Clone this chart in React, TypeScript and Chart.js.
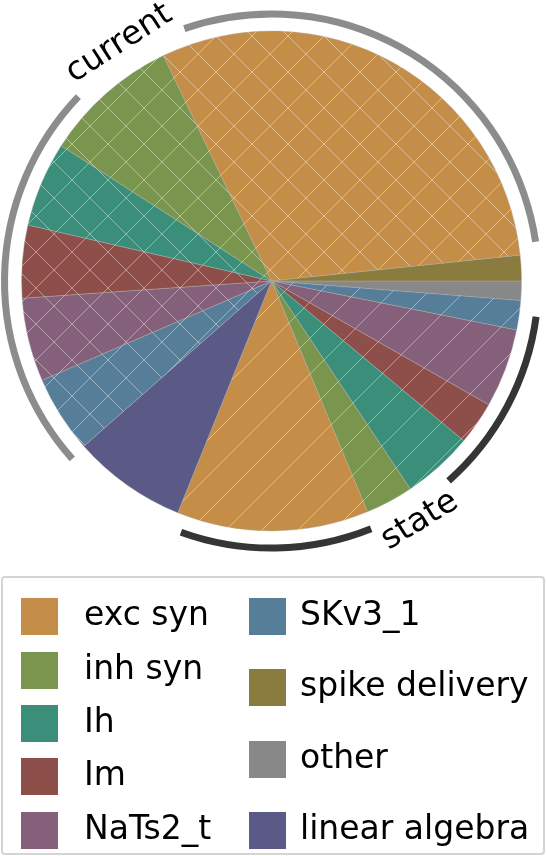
import React, { useEffect, useRef } from 'react';
import { Chart, registerables } from 'chart.js';

Chart.register(...registerables);

// ---- data (percent of total simulation time) ----
const categories = ['exc syn', 'inh syn', 'Ih', 'Im', 'NaTs2_t', 'SKv3_1'];
const currentValues = [30.5, 8.8, 5.5, 4.7, 5.4, 5.0];
const stateValues = [12.4, 3.1, 4.6, 2.8, 5.1, 1.9];
const spikeDeliveryValue = 1.65;
const otherValue = 1.25;
const linearAlgebraValue = 7.4;
const groupLabels = ['current', 'state'];
const extraLabels = ['spike delivery', 'other', 'linear algebra'];

// ---- styles ----
const categoryColors = ['#C48E48', '#7A964E', '#3A8E7A', '#8E4F4A', '#85607A', '#567E98'];
const spikeColor = '#8A7C3E';
const otherColor = '#888888';
const linAlgColor = '#5B5986';
const groupArcColors = ['#8c8c8c', '#353535'];

type Slice = { label: string; value: number; color: string; hatch: '' | '/' | 'x'; group: number };

function buildSlices(): Slice[] {
  const s: Slice[] = [];
  s.push({ label: 'other', value: otherValue, color: otherColor, hatch: '', group: -1 });
  for (let i = categories.length - 1; i >= 0; i--) {
    s.push({ label: categories[i] + ' (state)', value: stateValues[i], color: categoryColors[i], hatch: '/', group: 1 });
  }
  s.push({ label: 'linear algebra', value: linearAlgebraValue, color: linAlgColor, hatch: '', group: -1 });
  for (let i = categories.length - 1; i >= 0; i--) {
    s.push({ label: categories[i] + ' (current)', value: currentValues[i], color: categoryColors[i], hatch: 'x', group: 0 });
  }
  s.push({ label: 'spike delivery', value: spikeDeliveryValue, color: spikeColor, hatch: '', group: -1 });
  return s;
}

const HATCH = 36;

function makeFill(ctx: CanvasRenderingContext2D, color: string, hatch: string): string | CanvasPattern {
  if (!hatch) return color;
  const tile = document.createElement('canvas');
  tile.width = HATCH;
  tile.height = HATCH;
  const t = tile.getContext('2d')!;
  t.fillStyle = color;
  t.fillRect(0, 0, HATCH, HATCH);
  t.strokeStyle = 'rgba(255,255,255,0.42)';
  t.lineWidth = 1;
  t.beginPath();
  for (let k = -1; k <= 1; k++) {
    t.moveTo(k * HATCH, HATCH);
    t.lineTo(k * HATCH + HATCH, 0);
    if (hatch === 'x') {
      t.moveTo(k * HATCH, 0);
      t.lineTo(k * HATCH + HATCH, HATCH);
    }
  }
  t.stroke();
  return ctx.createPattern(tile, 'repeat')!;
}

const deg = Math.PI / 180;
// arc trims (start, end) in degrees and label position fraction, per group
const groupArcTrim = [
  [-0.4, 2.5],
  [3.2, 2.2],
];
const groupLabelFrac = [0.458, 0.5];
const FONT = '33px "DejaVu Sans"';

function makeGroupPlugin(slices: Slice[]) {
  return {
    id: 'groupArcs',
    afterDatasetsDraw(chart: any) {
      const ctx: CanvasRenderingContext2D = chart.ctx;
      const arcs = chart.getDatasetMeta(0).data;
      const { x: cx, y: cy, outerRadius } = arcs[0].getProps(['x', 'y', 'outerRadius'], true);
      const arcR = outerRadius + 17;
      const textR = outerRadius + 32;
      ctx.save();
      ctx.font = FONT;
      groupLabels.forEach((label, g) => {
        const idx = slices.map((s, i) => (s.group === g ? i : -1)).filter((i) => i >= 0);
        const a0 = arcs[idx[0]].getProps(['startAngle'], true).startAngle;
        const a1 = arcs[idx[idx.length - 1]].getProps(['endAngle'], true).endAngle;
        const s = a0 + groupArcTrim[g][0] * deg;
        const e = a1 - groupArcTrim[g][1] * deg;
        const la = a0 + groupLabelFrac[g] * (a1 - a0);
        const w = ctx.measureText(label).width;
        const half = (w / 2 + 4) / arcR;
        ctx.strokeStyle = groupArcColors[g];
        ctx.lineWidth = 7;
        ctx.lineCap = 'butt';
        ctx.beginPath();
        ctx.arc(cx, cy, arcR, s, la - half);
        ctx.stroke();
        ctx.beginPath();
        ctx.arc(cx, cy, arcR, la + half, e);
        ctx.stroke();
        const tx = cx + textR * Math.cos(la);
        const ty = cy + textR * Math.sin(la);
        ctx.save();
        ctx.translate(tx, ty);
        ctx.rotate(Math.sin(la) > 0 ? la - Math.PI / 2 : la + Math.PI / 2);
        ctx.fillStyle = '#000';
        ctx.textAlign = 'center';
        ctx.textBaseline = 'middle';
        ctx.fillText(label, 0, 0);
        ctx.restore();
      });
      ctx.restore();
    },
  };
}

const legendEntries = [...categories, ...extraLabels];
const legendColors = [...categoryColors, spikeColor, otherColor, linAlgColor];

export default function App() {
  const ref = useRef<HTMLCanvasElement>(null);
  useEffect(() => {
    const canvas = ref.current!;
    const ctx = canvas.getContext('2d')!;
    const slices = buildSlices();
    const chart = new Chart(canvas, {
      type: 'pie',
      data: {
        labels: slices.map((s) => s.label),
        datasets: [
          {
            data: slices.map((s) => s.value),
            backgroundColor: slices.map((s) => makeFill(ctx, s.color, s.hatch)),
            borderColor: 'rgba(175,175,175,0.5)',
            borderWidth: 0.8,
          },
        ],
      },
      options: {
        responsive: false,
        animation: false,
        events: [],
        rotation: 90,
        radius: 250,
        layout: { padding: { left: 0, right: 3, top: 0, bottom: 18 } },
        plugins: { legend: { display: false }, tooltip: { enabled: false } },
      } as any,
      plugins: [makeGroupPlugin(slices)],
    });
    return () => chart.destroy();
  }, []);

  const col1Tops = [598, 652, 705, 758, 812];
  const col2Tops = [598, 669, 741, 812];
  const items = legendEntries.map((label, i) => {
    const col = i < 5 ? 0 : 1;
    const top = col === 0 ? col1Tops[i] : col2Tops[i - 5];
    const px = col === 0 ? 21 : 249;
    const tx = col === 0 ? 84 : 300;
    return (
      <React.Fragment key={label}>
        <div style={{ position: 'absolute', left: px, top, width: 37, height: 37, background: legendColors[i] }} />
        <div
          style={{
            position: 'absolute',
            left: tx,
            top: top - 1,
            font: FONT,
            lineHeight: '33px',
            whiteSpace: 'nowrap',
            color: '#000',
          }}
        >
          {label}
        </div>
      </React.Fragment>
    );
  });

  return (
    <div style={{ position: 'absolute', left: 0, top: 0, width: 546, height: 856, overflow: 'hidden', background: '#fff' }}>
      <canvas ref={ref} width={546} height={580} style={{ position: 'absolute', left: 0, top: 0, width: 546, height: 580 }} />
      <div
        style={{
          position: 'absolute',
          left: 1,
          top: 576,
          width: 544,
          height: 279,
          boxSizing: 'border-box',
          border: '2px solid #d4d4d4',
          borderRadius: 4,
        }}
      />
      {items}
    </div>
  );
}
